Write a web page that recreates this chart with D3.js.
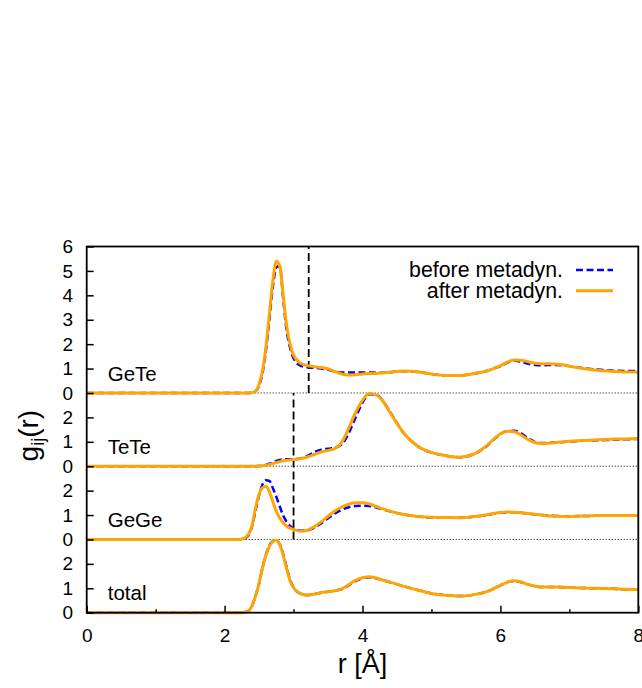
<!DOCTYPE html>
<html>
<head>
<meta charset="utf-8">
<script src="https://cdn.jsdelivr.net/npm/d3@7"></script>
<style>
  body { margin: 0; background: #fff; }
  svg text { font-family: "Liberation Sans", Arial, sans-serif; fill: #000; }
</style>
</head>
<body>
<script>
// r grid shared by all curves (Å)
const rGrid = [0, 2.2, 2.25, 2.3, 2.35, 2.4, 2.45, 2.5, 2.55, 2.6, 2.65, 2.7, 2.75, 2.8, 2.85, 2.9, 2.95, 3.0,
  3.1, 3.2, 3.3, 3.4, 3.5, 3.6, 3.7, 3.8, 3.9, 4.0, 4.1, 4.2, 4.3, 4.4, 4.6, 4.8, 5.0, 5.2, 5.4, 5.6, 5.8,
  5.9, 6.0, 6.1, 6.2, 6.3, 6.4, 6.5, 6.6, 6.8, 7.0, 7.2, 7.4, 7.6, 7.8, 8.0];

const geteBefore = [0, 0, 0, 0, 0, 0.02, 0.07, 0.3, 0.82, 1.75, 3.05, 4.35, 5.15, 5.2, 3.85, 2.55, 1.85, 1.42,
  1.12, 1.05, 1.03, 1.0, 0.95, 0.88, 0.84, 0.84, 0.84, 0.84, 0.84, 0.83, 0.83, 0.85, 0.89, 0.86, 0.78, 0.72, 0.72, 0.79, 0.9,
  1.0, 1.1, 1.24, 1.33, 1.28, 1.2, 1.15, 1.14, 1.15, 1.1, 1.02, 0.96, 0.92, 0.9, 0.9];
const geteAfter = [0, 0, 0, 0, 0, 0.02, 0.08, 0.36, 0.92, 1.9, 3.25, 4.6, 5.4, 5.2, 4.0, 2.75, 2.0, 1.55,
  1.22, 1.12, 1.08, 1.04, 0.99, 0.88, 0.78, 0.74, 0.75, 0.78, 0.8, 0.8, 0.82, 0.85, 0.9, 0.87, 0.78, 0.72, 0.72, 0.79, 0.9,
  1.0, 1.12, 1.26, 1.35, 1.34, 1.28, 1.22, 1.2, 1.19, 1.1, 1.0, 0.93, 0.89, 0.86, 0.86];

const teteBefore = [0, 0, 0, 0, 0, 0, 0, 0.01, 0.02, 0.05, 0.1, 0.16, 0.22, 0.26, 0.28, 0.29, 0.29, 0.29,
  0.32, 0.42, 0.58, 0.68, 0.72, 0.76, 0.9, 1.35, 2.0, 2.6, 2.95, 2.93, 2.66, 2.22, 1.35, 0.82, 0.56, 0.43, 0.37, 0.48, 0.82,
  1.08, 1.32, 1.44, 1.45, 1.35, 1.15, 1.0, 0.95, 0.97, 1.01, 1.04, 1.06, 1.08, 1.1, 1.12];
const teteAfter = [0, 0, 0, 0, 0, 0, 0, 0.01, 0.02, 0.04, 0.07, 0.11, 0.15, 0.19, 0.22, 0.24, 0.26, 0.27,
  0.31, 0.38, 0.48, 0.58, 0.65, 0.72, 0.98, 1.55, 2.2, 2.7, 2.98, 2.92, 2.65, 2.2, 1.35, 0.82, 0.57, 0.44, 0.37, 0.48, 0.84,
  1.1, 1.33, 1.43, 1.41, 1.28, 1.1, 0.97, 0.93, 0.97, 1.02, 1.05, 1.08, 1.1, 1.12, 1.14];

const gegeBefore = [0, 0, 0.01, 0.06, 0.18, 0.55, 1.2, 1.8, 2.25, 2.43, 2.4, 2.1, 1.75, 1.35, 0.98, 0.72, 0.55, 0.45,
  0.36, 0.37, 0.48, 0.66, 0.87, 1.07, 1.22, 1.32, 1.37, 1.38, 1.37, 1.31, 1.23, 1.15, 1.02, 0.94, 0.9, 0.89, 0.89, 0.93, 1.0,
  1.05, 1.09, 1.11, 1.11, 1.09, 1.06, 1.03, 1.0, 0.96, 0.95, 0.96, 0.97, 0.98, 0.98, 0.98];
const gegeAfter = [0, 0, 0.02, 0.08, 0.22, 0.6, 1.3, 1.85, 2.12, 2.18, 1.95, 1.55, 1.15, 0.88, 0.68, 0.54, 0.46, 0.41,
  0.34, 0.38, 0.52, 0.72, 0.95, 1.17, 1.33, 1.44, 1.5, 1.5, 1.45, 1.35, 1.25, 1.16, 1.02, 0.94, 0.91, 0.9, 0.89, 0.93, 1.01,
  1.06, 1.1, 1.12, 1.11, 1.09, 1.06, 1.03, 1.0, 0.95, 0.93, 0.96, 0.98, 0.98, 0.98, 0.98];

const totalBefore = [0, 0, 0, 0.02, 0.08, 0.3, 0.7, 1.2, 1.85, 2.38, 2.75, 2.93, 2.95, 2.8, 2.4, 1.85, 1.35, 1.04,
  0.78, 0.72, 0.76, 0.82, 0.86, 0.9, 0.97, 1.12, 1.3, 1.41, 1.45, 1.41, 1.33, 1.25, 1.08, 0.93, 0.79, 0.72, 0.68, 0.73, 0.86,
  0.98, 1.12, 1.25, 1.3, 1.25, 1.16, 1.08, 1.05, 1.05, 1.03, 1.01, 1.0, 0.98, 0.96, 0.95];
const totalAfter = [0, 0, 0, 0.02, 0.08, 0.3, 0.7, 1.2, 1.85, 2.35, 2.72, 2.92, 2.97, 2.8, 2.35, 1.8, 1.3, 1.02,
  0.78, 0.72, 0.76, 0.82, 0.86, 0.9, 0.98, 1.15, 1.33, 1.43, 1.47, 1.42, 1.33, 1.25, 1.08, 0.93, 0.79, 0.72, 0.68, 0.73, 0.86,
  0.98, 1.12, 1.25, 1.31, 1.26, 1.16, 1.08, 1.05, 1.05, 1.03, 1.01, 1.0, 0.98, 0.96, 0.95];

// panels stacked from bottom; offset = where the panel's zero sits on the shared y scale
const panelNames = ["total", "GeGe", "TeTe", "GeTe"];
const panelOffsets = [0, 3, 6, 9];
const panelTicks = [[0, 1, 2], [0, 1, 2], [0, 1, 2], [0, 1, 2, 3, 4, 5, 6]];
const panelSeries = [[totalBefore, totalAfter], [gegeBefore, gegeAfter], [teteBefore, teteAfter], [geteBefore, geteAfter]];

// cutoff markers: r position and the y span (shared scale) they cover
const cutoffR = [3.22, 3.0];
const cutoffSpan = [[9, 15], [3, 9]];

const xMajor = [0, 2, 4, 6, 8];
const xMinor = [1, 3, 5, 7];
const seriesNames = ["before metadyn.", "after metadyn."];

const width = 642, height = 688;
const margin = { top: 246.5, right: 3.7, bottom: 75.3, left: 86.7 };
const blue = "#0000ff", orange = "#ffa500";

const svg = d3.select("body").append("svg")
  .attr("width", width).attr("height", height)
  .attr("viewBox", [0, 0, width, height]);

const x = d3.scaleLinear().domain([0, 8]).range([margin.left, width - margin.right]);
const y = d3.scaleLinear().domain([0, 15]).range([height - margin.bottom, margin.top]);

// dotted zero lines between panels
svg.append("g")
  .selectAll("line")
  .data(panelOffsets.slice(1))
  .join("line")
  .attr("x1", x(0)).attr("x2", x(8))
  .attr("y1", (d) => y(d)).attr("y2", (d) => y(d))
  .attr("stroke", "#000").attr("stroke-width", 1)
  .attr("stroke-dasharray", "1,2");

// vertical dashed cutoffs
svg.append("g")
  .selectAll("line")
  .data(cutoffR)
  .join("line")
  .attr("x1", (d) => x(d)).attr("x2", (d) => x(d))
  .attr("y1", (d, i) => y(cutoffSpan[i][0])).attr("y2", (d, i) => y(cutoffSpan[i][1]))
  .attr("stroke", "#000").attr("stroke-width", 1.8)
  .attr("stroke-dasharray", "8,4");

// curves
const line = d3.line()
  .x((d) => x(d[0]))
  .y((d) => y(d[1]))
  .curve(d3.curveMonotoneX);

panelSeries.forEach((pair, p) => {
  const off = panelOffsets[p];
  const before = rGrid.map((r, k) => [r, pair[0][k] + off]);
  const after = rGrid.map((r, k) => [r, pair[1][k] + off]);
  svg.append("path").datum(before)
    .attr("fill", "none").attr("stroke", blue).attr("stroke-width", 2.5)
    .attr("stroke-dasharray", "7,3.5").attr("d", line);
  svg.append("path").datum(after)
    .attr("fill", "none").attr("stroke", orange).attr("stroke-width", 3)
    .attr("d", line);
});

// y axis (inward ticks, panel-relative labels)
const yTickPos = [], yTickLab = [];
panelTicks.forEach((ticks, p) => ticks.forEach((t) => {
  yTickPos.push(t + panelOffsets[p]);
  yTickLab.push(t);
}));

svg.append("g")
  .attr("transform", `translate(${margin.left},0)`)
  .call(d3.axisLeft(y).tickValues(yTickPos)
    .tickFormat((d, i) => yTickLab[i])
    .tickSizeInner(-7).tickSizeOuter(0).tickPadding(13.5))
  .call((g) => g.select(".domain").remove())
  .call((g) => g.selectAll(".tick line").attr("stroke", "#000").attr("stroke-width", 1.5))
  .call((g) => g.selectAll("text").attr("font-size", 19).attr("font-family", null));

// x axis
svg.append("g")
  .attr("transform", `translate(0,${height - margin.bottom})`)
  .call(d3.axisBottom(x).tickValues(xMajor).tickFormat(d3.format("d"))
    .tickSizeInner(-7).tickSizeOuter(0).tickPadding(16))
  .call((g) => g.select(".domain").remove())
  .call((g) => g.selectAll(".tick line").attr("stroke", "#000").attr("stroke-width", 1.5))
  .call((g) => g.selectAll("text").attr("font-size", 19).attr("font-family", null));

svg.append("g")
  .attr("transform", `translate(0,${height - margin.bottom})`)
  .call(d3.axisBottom(x).tickValues(xMinor).tickFormat("")
    .tickSizeInner(-3.5).tickSizeOuter(0))
  .call((g) => g.select(".domain").remove())
  .call((g) => g.selectAll(".tick line").attr("stroke", "#000").attr("stroke-width", 1.5));

// frame
svg.append("rect")
  .attr("x", x(0)).attr("y", y(15))
  .attr("width", x(8) - x(0)).attr("height", y(0) - y(15))
  .attr("fill", "none").attr("stroke", "#000").attr("stroke-width", 1.8);

// panel labels
svg.append("g")
  .selectAll("text")
  .data(panelNames)
  .join("text")
  .attr("x", x(0) + 21)
  .attr("y", (d, i) => y(panelOffsets[i] + 0.5))
  .attr("font-size", 20.5)
  .text((d) => d);

// legend
const legend = svg.append("g");
seriesNames.forEach((name, i) => {
  const ly = 270 + i * 20.7;
  legend.append("text")
    .attr("x", 563).attr("y", ly).attr("dy", "0.35em")
    .attr("text-anchor", "end").attr("font-size", 21.3)
    .text(name);
  legend.append("line")
    .attr("x1", 576).attr("x2", 613).attr("y1", ly).attr("y2", ly)
    .attr("stroke", i === 0 ? blue : orange)
    .attr("stroke-width", i === 0 ? 2.5 : 3)
    .attr("stroke-dasharray", i === 0 ? "7,3.5" : null);
});

// axis titles
svg.append("text")
  .attr("x", (x(0) + x(8)) / 2).attr("y", 673)
  .attr("text-anchor", "middle").attr("font-size", 27)
  .text("r [Å]");

const yl = svg.append("text")
  .attr("transform", `translate(38,${(y(0) + y(15)) / 2 + 6}) rotate(-90)`)
  .attr("text-anchor", "middle").attr("font-size", 28);
yl.append("tspan").text("g");
yl.append("tspan").attr("font-size", 18).attr("dy", 6).text("ij");
yl.append("tspan").attr("dy", -6).text("(r)");
</script>
</body>
</html>
